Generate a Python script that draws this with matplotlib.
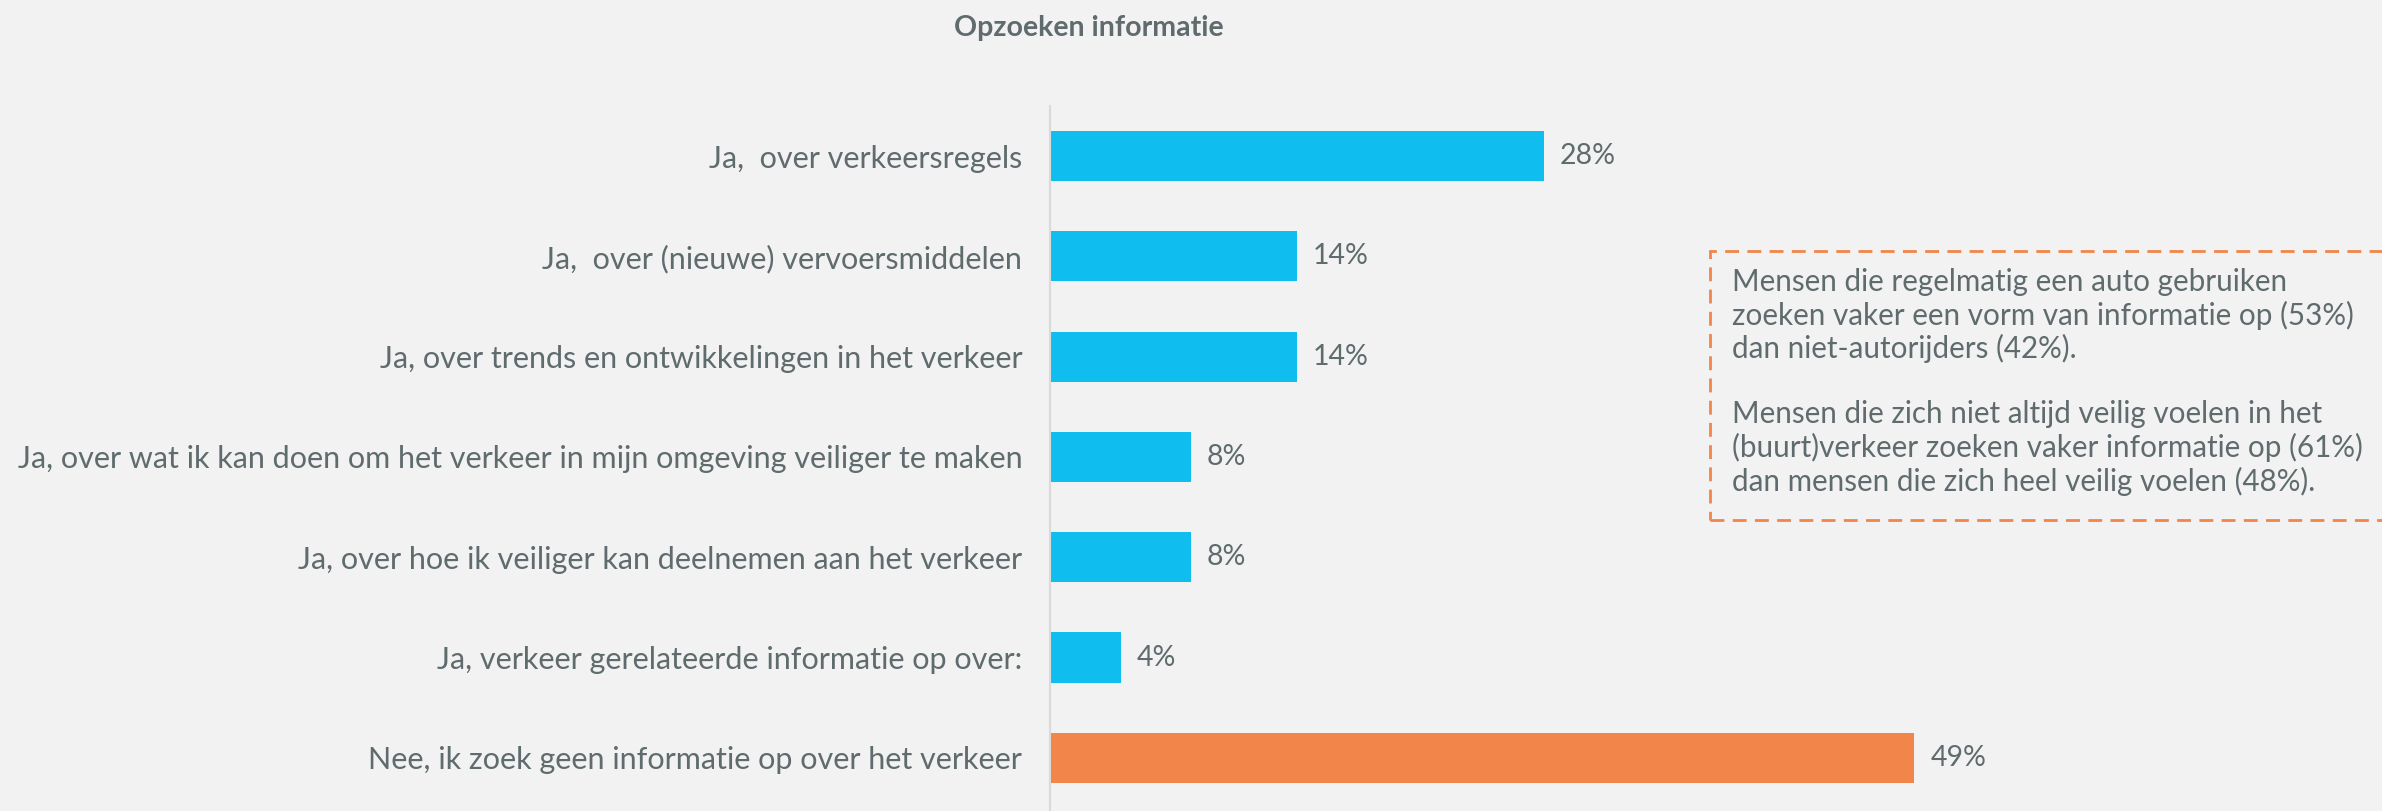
import matplotlib.pyplot as plt
from matplotlib.patches import Rectangle

# Data
categories = [
    'Ja,  over verkeersregels',
    'Ja,  over (nieuwe) vervoersmiddelen',
    'Ja, over trends en ontwikkelingen in het verkeer',
    'Ja, over wat ik kan doen om het verkeer in mijn omgeving veiliger te maken',
    'Ja, over hoe ik veiliger kan deelnemen aan het verkeer',
    'Ja, verkeer gerelateerde informatie op over:',
    'Nee, ik zoek geen informatie op over het verkeer',
]
values = [28, 14, 14, 8, 8, 4, 49]
bar_colors = ['#0FBDEF'] * 6 + ['#F2854A']

note = ("Mensen die regelmatig een auto gebruiken\n"
        "zoeken vaker een vorm van informatie op (53%)\n"
        "dan niet-autorijders (42%).\n"
        "\n"
        "Mensen die zich niet altijd veilig voelen in het\n"
        "(buurt)verkeer zoeken vaker informatie op (61%)\n"
        "dan mensen die zich heel veilig voelen (48%).")

bg = '#F2F2F2'
txt = '#5F6B6D'
plt.rcParams['font.family'] = ['Lato', 'DejaVu Sans']

fig = plt.figure(figsize=(23.82, 8.11), dpi=100, facecolor=bg)
ax = fig.add_axes([0.4408, 0.0, 0.5592, 0.8693])
ax.set_facecolor(bg)

y = list(range(len(values)))
ax.barh(y, values, height=0.5, color=bar_colors)
ax.set_ylim(6.53, -0.5)
ax.set_xlim(0, 75.5)

for i, v in enumerate(values):
    ax.text(v + 0.9, i, f"{v}%", va='center', ha='left', fontsize=20.5, color=txt)

ax.set_yticks(y)
ax.set_yticklabels(categories, fontsize=22, color=txt)
ax.tick_params(axis='y', length=0, pad=20)
ax.set_xticks([])
for s in ['top', 'right', 'bottom']:
    ax.spines[s].set_visible(False)
ax.spines['left'].set_color('#DADADA')
ax.spines['left'].set_linewidth(1.5)

fig.text(0.457, 0.965, 'Opzoeken informatie', ha='center', va='center',
         fontsize=20.5, fontweight='bold', color=txt)

# Dashed note box
box = Rectangle((1710 / 2382, 1 - 520 / 811), 700 / 2382, 269 / 811,
                transform=fig.transFigure, fill=False, edgecolor='#F2854A',
                linewidth=2, linestyle=(0, (5, 3)))
fig.patches.append(box)
fig.text(1732 / 2382, 1 - 268 / 811, note, ha='left', va='top',
         fontsize=21.3, color=txt, linespacing=1.19)

fig.savefig('out.png', dpi=100, facecolor=bg)
